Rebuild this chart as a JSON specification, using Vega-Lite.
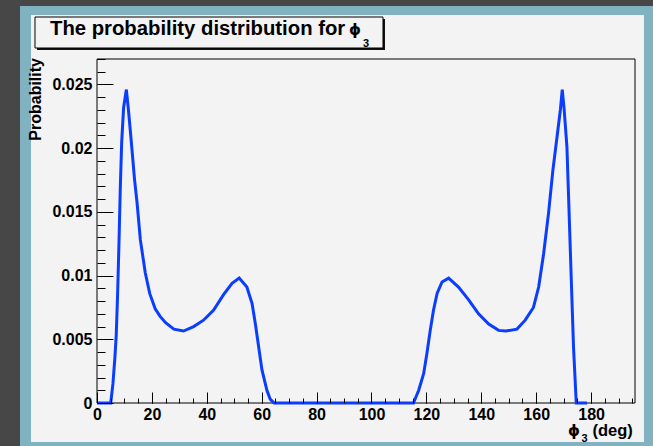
{
  "$schema": "https://vega.github.io/schema/vega-lite/v6.json",
  "width": 538,
  "height": 344,
  "autosize": {"type": "none"},
  "padding": {"left": 97, "top": 59, "right": 18, "bottom": 43},
  "background": "#474747",
  "config": {"view": {"stroke": null}, "font": "Liberation Sans"},
  "resolve": {"axis": {"x": "independent", "y": "independent"}},
  "layer": [
    {
      "data": {"values": [{}]},
      "mark": {"type": "rect", "fill": "#80b2c1"},
      "encoding": {
        "x": {"datum": -28.05, "type": "quantitative", "scale": {"domain": [0, 196], "nice": false, "zero": false}, "axis": null},
        "x2": {"datum": 205.1},
        "y": {"datum": 0.03116, "type": "quantitative", "scale": {"domain": [0, 0.027], "nice": false, "zero": false}, "axis": null},
        "y2": {"datum": -0.00369}
      }
    },
    {
      "data": {"values": [{}]},
      "mark": {"type": "rect", "fill": "#f3f3f3"},
      "encoding": {
        "x": {"datum": -24.04, "type": "quantitative", "scale": {"domain": [0, 196], "nice": false, "zero": false}, "axis": null},
        "x2": {"datum": 199.27},
        "y": {"datum": 0.030453, "type": "quantitative", "scale": {"domain": [0, 0.027], "nice": false, "zero": false}, "axis": null},
        "y2": {"datum": -0.003061}
      }
    },
    {
      "data": {"values": [{}]},
      "mark": {"type": "rect", "fill": "#111111"},
      "encoding": {
        "x": {"datum": -21.86, "type": "quantitative", "scale": {"domain": [0, 196], "nice": false, "zero": false}, "axis": null},
        "x2": {"datum": 104.92},
        "y": {"datum": 0.03014, "type": "quantitative", "scale": {"domain": [0, 0.027], "nice": false, "zero": false}, "axis": null},
        "y2": {"datum": 0.027706}
      }
    },
    {
      "data": {"values": [{}]},
      "mark": {"type": "rect", "fill": "#f3f3f3", "stroke": "#000000", "strokeWidth": 1},
      "encoding": {
        "x": {"datum": -22.59, "type": "quantitative", "scale": {"domain": [0, 196], "nice": false, "zero": false}, "axis": null},
        "x2": {"datum": 104.19},
        "y": {"datum": 0.030296, "type": "quantitative", "scale": {"domain": [0, 0.027], "nice": false, "zero": false}, "axis": null},
        "y2": {"datum": 0.027863}
      }
    },
    {
      "data": {"values": [{}]},
      "mark": {"type": "text", "text": "The probability distribution for", "font": "Liberation Sans", "fontWeight": "bold", "fontSize": 20.3, "align": "left", "baseline": "alphabetic", "color": "#000000"},
      "encoding": {
        "x": {"datum": -17.12, "type": "quantitative", "scale": {"domain": [0, 196], "nice": false, "zero": false}, "axis": null},
        "y": {"datum": 0.028884, "type": "quantitative", "scale": {"domain": [0, 0.027], "nice": false, "zero": false}, "axis": null}
      }
    },
    {
      "data": {"values": [{}]},
      "mark": {"type": "text", "text": "ϕ", "font": "DejaVu Sans", "fontWeight": "bold", "fontSize": 15, "align": "left", "baseline": "alphabetic", "color": "#000000"},
      "encoding": {
        "x": {"datum": 91.8, "type": "quantitative", "scale": {"domain": [0, 196], "nice": false, "zero": false}, "axis": null},
        "y": {"datum": 0.028884, "type": "quantitative", "scale": {"domain": [0, 0.027], "nice": false, "zero": false}, "axis": null}
      }
    },
    {
      "data": {"values": [{}]},
      "mark": {"type": "text", "text": "3", "font": "Liberation Sans", "fontWeight": "bold", "fontSize": 11, "align": "left", "baseline": "alphabetic", "color": "#000000"},
      "encoding": {
        "x": {"datum": 96.9, "type": "quantitative", "scale": {"domain": [0, 196], "nice": false, "zero": false}, "axis": null},
        "y": {"datum": 0.027981, "type": "quantitative", "scale": {"domain": [0, 0.027], "nice": false, "zero": false}, "axis": null}
      }
    },
    {
      "data": {"values": [{}]},
      "mark": {"type": "rect", "filled": false, "stroke": "#000000", "strokeWidth": 1},
      "encoding": {
        "x": {"datum": 0, "type": "quantitative", "scale": {"domain": [0, 196], "nice": false, "zero": false}, "axis": null},
        "x2": {"datum": 196},
        "y": {"datum": 0.027, "type": "quantitative", "scale": {"domain": [0, 0.027], "nice": false, "zero": false}, "axis": null},
        "y2": {"datum": 0}
      }
    },
    {
      "data": {"name": "curve"},
      "mark": {"type": "line", "color": "#0b3dff", "strokeWidth": 3, "interpolate": "linear"},
      "encoding": {
        "x": {
          "field": "phi", "type": "quantitative",
          "scale": {"domain": [0, 196], "nice": false, "zero": false},
          "axis": {"orient": "bottom", "values": [0, 20, 40, 60, 80, 100, 120, 140, 160, 180], "format": "d", "title": null, "domain": false, "grid": false, "tickSize": -11, "tickColor": "#000000", "tickWidth": 1, "labelPadding": 14, "labelFontSize": 16, "labelFontWeight": "bold", "labelColor": "#000000", "labelFont": "Liberation Sans", "labelFlush": false, "labelOverlap": false, "zindex": 1}
        },
        "y": {
          "field": "p", "type": "quantitative",
          "scale": {"domain": [0, 0.027], "nice": false, "zero": false},
          "axis": {"orient": "left", "values": [0, 0.005, 0.01, 0.015, 0.02, 0.025], "format": "~g", "title": null, "domain": false, "grid": false, "tickSize": -16, "tickColor": "#000000", "tickWidth": 1, "labelPadding": 21, "labelFontSize": 16, "labelFontWeight": "bold", "labelColor": "#000000", "labelFont": "Liberation Sans", "labelFlush": false, "labelOverlap": false, "zindex": 1}
        }
      }
    },
    {
      "data": {"name": "curve"},
      "mark": {"type": "line", "strokeOpacity": 0},
      "encoding": {
        "x": {
          "field": "phi", "type": "quantitative",
          "scale": {"domain": [0, 196], "nice": false, "zero": false},
          "axis": {"orient": "bottom", "values": [0, 5, 10, 15, 20, 25, 30, 35, 40, 45, 50, 55, 60, 65, 70, 75, 80, 85, 90, 95, 100, 105, 110, 115, 120, 125, 130, 135, 140, 145, 150, 155, 160, 165, 170, 175, 180, 185, 190, 195], "title": null, "domain": false, "grid": false, "labels": false, "tickSize": -5, "tickColor": "#000000", "tickWidth": 1, "zindex": 1}
        },
        "y": {
          "field": "p", "type": "quantitative",
          "scale": {"domain": [0, 0.027], "nice": false, "zero": false},
          "axis": {"orient": "left", "values": [0, 0.001, 0.002, 0.003, 0.004, 0.005, 0.006, 0.007, 0.008, 0.009, 0.01, 0.011, 0.012, 0.013, 0.014, 0.015, 0.016, 0.017, 0.018, 0.019, 0.02, 0.021, 0.022, 0.023, 0.024, 0.025, 0.026, 0.027], "title": null, "domain": false, "grid": false, "labels": false, "tickSize": -8, "tickColor": "#000000", "tickWidth": 1, "zindex": 1}
        }
      }
    },
    {
      "data": {"values": [{}]},
      "mark": {"type": "text", "text": "Probability", "font": "Liberation Sans", "fontWeight": "bold", "fontSize": 16, "angle": 270, "align": "right", "baseline": "alphabetic", "color": "#000000"},
      "encoding": {
        "x": {"datum": -20.22, "type": "quantitative", "scale": {"domain": [0, 196], "nice": false, "zero": false}, "axis": null},
        "y": {"datum": 0.027078, "type": "quantitative", "scale": {"domain": [0, 0.027], "nice": false, "zero": false}, "axis": null}
      }
    },
    {
      "data": {"values": [{}]},
      "mark": {"type": "text", "text": "ϕ", "font": "DejaVu Sans", "fontWeight": "bold", "fontSize": 15, "align": "left", "baseline": "alphabetic", "color": "#000000"},
      "encoding": {
        "x": {"datum": 171.58, "type": "quantitative", "scale": {"domain": [0, 196], "nice": false, "zero": false}, "axis": null},
        "y": {"datum": -0.00259, "type": "quantitative", "scale": {"domain": [0, 0.027], "nice": false, "zero": false}, "axis": null}
      }
    },
    {
      "data": {"values": [{}]},
      "mark": {"type": "text", "text": "3", "font": "Liberation Sans", "fontWeight": "bold", "fontSize": 11, "align": "left", "baseline": "alphabetic", "color": "#000000"},
      "encoding": {
        "x": {"datum": 176.5, "type": "quantitative", "scale": {"domain": [0, 196], "nice": false, "zero": false}, "axis": null},
        "y": {"datum": -0.003022, "type": "quantitative", "scale": {"domain": [0, 0.027], "nice": false, "zero": false}, "axis": null}
      }
    },
    {
      "data": {"values": [{}]},
      "mark": {"type": "text", "text": "(deg)", "font": "Liberation Sans", "fontWeight": "bold", "fontSize": 16.5, "align": "left", "baseline": "alphabetic", "color": "#000000"},
      "encoding": {
        "x": {"datum": 180.5, "type": "quantitative", "scale": {"domain": [0, 196], "nice": false, "zero": false}, "axis": null},
        "y": {"datum": -0.00259, "type": "quantitative", "scale": {"domain": [0, 0.027], "nice": false, "zero": false}, "axis": null}
      }
    }
  ],
  "datasets": {
    "curve": [
      {"phi": 0, "p": 0}, {"phi": 5, "p": 0}, {"phi": 5.8, "p": 0.0015}, {"phi": 6.5, "p": 0.0035},
      {"phi": 7, "p": 0.0053}, {"phi": 7.5, "p": 0.0085}, {"phi": 8, "p": 0.0125}, {"phi": 8.5, "p": 0.017},
      {"phi": 9, "p": 0.0205}, {"phi": 9.7, "p": 0.0232}, {"phi": 10.7, "p": 0.0246}, {"phi": 11.5, "p": 0.0229},
      {"phi": 12.5, "p": 0.0205}, {"phi": 13.7, "p": 0.0175}, {"phi": 14.6, "p": 0.0157}, {"phi": 15.8, "p": 0.0128},
      {"phi": 17.6, "p": 0.0102}, {"phi": 19.2, "p": 0.0086}, {"phi": 21.2, "p": 0.0074}, {"phi": 23, "p": 0.0068},
      {"phi": 25, "p": 0.0063}, {"phi": 28, "p": 0.0058}, {"phi": 31.5, "p": 0.00565}, {"phi": 35.2, "p": 0.006},
      {"phi": 38.8, "p": 0.0065}, {"phi": 42.5, "p": 0.0073}, {"phi": 46.1, "p": 0.0085}, {"phi": 49.2, "p": 0.0094},
      {"phi": 51.8, "p": 0.0098}, {"phi": 54.6, "p": 0.0091}, {"phi": 56.5, "p": 0.0078}, {"phi": 57.7, "p": 0.0062},
      {"phi": 58.9, "p": 0.0044}, {"phi": 60.1, "p": 0.0026}, {"phi": 61.9, "p": 0.001}, {"phi": 63.1, "p": 0.0003},
      {"phi": 64.5, "p": 0}, {"phi": 115.3, "p": 0}, {"phi": 117.2, "p": 0.001}, {"phi": 119, "p": 0.0023},
      {"phi": 120.2, "p": 0.0039}, {"phi": 121.4, "p": 0.0057}, {"phi": 122.6, "p": 0.0073}, {"phi": 123.9, "p": 0.0086},
      {"phi": 125.7, "p": 0.0095}, {"phi": 128.1, "p": 0.0098}, {"phi": 131.7, "p": 0.0091}, {"phi": 135.4, "p": 0.0081},
      {"phi": 139, "p": 0.007}, {"phi": 142.7, "p": 0.0062}, {"phi": 146.3, "p": 0.0057}, {"phi": 149, "p": 0.00565},
      {"phi": 153, "p": 0.0058}, {"phi": 156, "p": 0.0065}, {"phi": 159, "p": 0.0075}, {"phi": 160.9, "p": 0.0091},
      {"phi": 162.7, "p": 0.0117}, {"phi": 164.5, "p": 0.0149}, {"phi": 166.1, "p": 0.0183}, {"phi": 167.6, "p": 0.0209},
      {"phi": 168.8, "p": 0.023}, {"phi": 169.5, "p": 0.0246}, {"phi": 170.2, "p": 0.023}, {"phi": 171.2, "p": 0.0201},
      {"phi": 171.8, "p": 0.0162}, {"phi": 172.8, "p": 0.0096}, {"phi": 173.6, "p": 0.0044}, {"phi": 174.6, "p": 0},
      {"phi": 178.5, "p": 0}
    ]
  }
}
